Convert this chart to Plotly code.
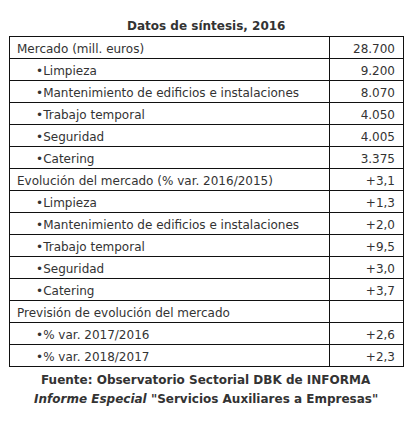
import plotly.graph_objects as go

NB = "\u00a0"
labels = [
    "Mercado (mill. euros)",
    "•Limpieza",
    "•Mantenimiento de edificios e instalaciones",
    "•Trabajo temporal",
    "•Seguridad",
    "•Catering",
    "Evolución del mercado (% var. 2016/2015)",
    "•Limpieza",
    "•Mantenimiento de edificios e instalaciones",
    "•Trabajo temporal",
    "•Seguridad",
    "•Catering",
    "Previsión de evolución del mercado",
    "•% var. 2017/2016",
    "•% var. 2018/2017",
]
values = ["28.700", "9.200", "8.070", "4.050", "4.005", "3.375",
          "+3,1", "+1,3", "+2,0", "+9,5", "+3,0", "+3,7",
          "", "+2,6", "+2,3"]

col1 = [(NB * 5 + l) if l.startswith("•") else l for l in labels]
col2 = values

W, H = 413, 430
OFF = 8  # page body margin
font = dict(family="DejaVu Sans, Verdana, sans-serif", size=12, color="#333333")
line = dict(color="#111111", width=1)

fig = go.Figure(go.Table(
    domain=dict(x=[(9 - OFF) / W, (403 - OFF) / W], y=[0, 1 - (36 - OFF) / H]),
    columnwidth=[320, 74],
    header=dict(values=[col1[0], col2[0]], align=["left", "right"], height=22,
                font=font, fill_color="white", line=line),
    cells=dict(values=[col1[1:], col2[1:]], align=["left", "right"], height=22,
               font=font, fill_color="white", line=line),
))

cx = (206 - OFF) / W
fig.add_annotation(x=cx, y=1 - (17 - OFF) / H, xref="paper", yref="paper",
                   text="<b>Datos de síntesis, 2016</b>", showarrow=False, font=font)
fig.add_annotation(x=cx, y=1 - (389 - OFF) / H, xref="paper", yref="paper",
                   text="<b>Fuente: Observatorio Sectorial DBK de INFORMA</b>", showarrow=False, font=font)
fig.add_annotation(x=cx, y=1 - (408 - OFF) / H, xref="paper", yref="paper",
                   text="<b><i>Informe Especial</i> \"Servicios Auxiliares a Empresas\"</b>",
                   showarrow=False, font=font)

fig.update_layout(width=W, height=H, margin=dict(l=0, r=0, t=0, b=0),
                  paper_bgcolor="white", plot_bgcolor="white")
fig.write_html("out.html")
